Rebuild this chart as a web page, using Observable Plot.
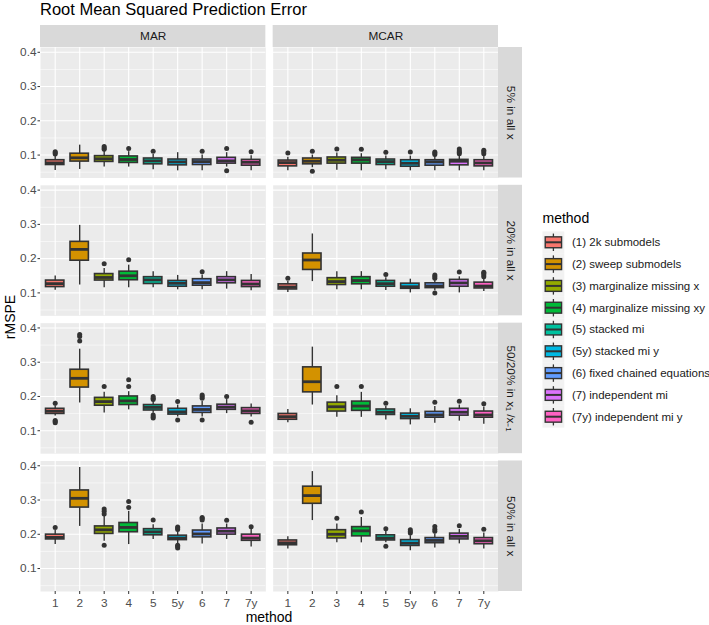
<!DOCTYPE html>
<html><head><meta charset="utf-8">
<script src="https://cdn.jsdelivr.net/npm/d3@7"></script>
<script src="https://cdn.jsdelivr.net/npm/@observablehq/plot@0.6"></script>
<style>
body{margin:0;background:#fff}
#chart{position:relative;width:709px;height:625px}
</style>
</head><body><div id="chart"></div>
<script>
const chartTitle = "Root Mean Squared Prediction Error";
const mechanisms = ["MAR", "MCAR"];
const scenarios = ["5% in all x", "20% in all x", "50/20% in x\u2081 /x\u208B\u2081", "50% in all x"];
const methodCodes = ["1", "2", "3", "4", "5", "5y", "6", "7", "7y"];
const methodLabels = ["(1) 2k submodels", "(2) sweep submodels", "(3) marginalize missing x", "(4) marginalize missing xy", "(5) stacked mi", "(5y) stacked mi y", "(6) fixed chained equations", "(7) independent mi", "(7y) independent mi y"];
const methodColors = ["#F8766D", "#D39200", "#93AA00", "#00BA38", "#00C19F", "#00B9E3", "#619CFF", "#DB72FB", "#FF61C3"];
const yTicks = [0.1, 0.2, 0.3, 0.4];
const yMinorTicks = [0.05, 0.15, 0.25, 0.35];
const yDomain = [0.033, 0.414];
// panel order: [mechanism index, scenario index]
const panels = [[0,0],[1,0],[0,1],[1,1],[0,2],[1,2],[0,3],[1,3]];

const whiskerLow = [
  [0.055,0.058,0.065,0.065,0.057,0.054,0.054,0.065,0.054],
  [0.054,0.063,0.056,0.054,0.057,0.054,0.054,0.054,0.054],
  [0.108,0.123,0.115,0.115,0.115,0.109,0.109,0.111,0.106],
  [0.101,0.133,0.109,0.109,0.107,0.100,0.106,0.100,0.104],
  [0.143,0.181,0.152,0.161,0.151,0.140,0.140,0.150,0.140],
  [0.123,0.175,0.139,0.139,0.131,0.117,0.122,0.128,0.119],
  [0.170,0.223,0.180,0.170,0.185,0.173,0.172,0.185,0.163],
  [0.157,0.240,0.175,0.175,0.175,0.152,0.160,0.172,0.157]
];
const quartile1 = [
  [0.071,0.081,0.080,0.077,0.073,0.070,0.071,0.075,0.069],
  [0.067,0.073,0.075,0.075,0.071,0.066,0.069,0.070,0.067],
  [0.117,0.194,0.136,0.137,0.126,0.118,0.121,0.128,0.117],
  [0.110,0.167,0.123,0.125,0.118,0.112,0.114,0.118,0.113],
  [0.149,0.226,0.173,0.175,0.159,0.147,0.152,0.161,0.149],
  [0.132,0.212,0.156,0.158,0.146,0.134,0.138,0.144,0.138],
  [0.185,0.278,0.201,0.206,0.197,0.183,0.191,0.199,0.181],
  [0.168,0.289,0.188,0.194,0.182,0.166,0.174,0.185,0.171]
];
const medians = [
  [0.077,0.092,0.089,0.087,0.083,0.080,0.081,0.083,0.079],
  [0.078,0.082,0.085,0.086,0.081,0.076,0.080,0.082,0.077],
  [0.127,0.227,0.145,0.150,0.138,0.128,0.130,0.138,0.126],
  [0.117,0.196,0.133,0.136,0.127,0.118,0.120,0.129,0.120],
  [0.157,0.253,0.185,0.187,0.168,0.155,0.162,0.169,0.158],
  [0.141,0.243,0.170,0.172,0.154,0.142,0.146,0.154,0.146],
  [0.191,0.305,0.213,0.220,0.207,0.189,0.201,0.209,0.189],
  [0.175,0.313,0.200,0.210,0.189,0.174,0.182,0.194,0.181]
];
const quartile3 = [
  [0.085,0.104,0.097,0.096,0.090,0.087,0.087,0.092,0.086],
  [0.084,0.090,0.093,0.092,0.087,0.085,0.085,0.086,0.085],
  [0.136,0.249,0.155,0.162,0.146,0.135,0.140,0.146,0.135],
  [0.125,0.215,0.143,0.146,0.135,0.127,0.128,0.138,0.130],
  [0.164,0.278,0.196,0.200,0.175,0.164,0.171,0.176,0.166],
  [0.149,0.285,0.182,0.185,0.162,0.150,0.155,0.164,0.156],
  [0.199,0.328,0.223,0.233,0.215,0.196,0.211,0.217,0.199],
  [0.182,0.339,0.212,0.221,0.197,0.183,0.189,0.202,0.189]
];
const whiskerHigh = [
  [0.097,0.129,0.112,0.110,0.102,0.107,0.100,0.107,0.098],
  [0.094,0.100,0.106,0.104,0.097,0.097,0.098,0.100,0.100],
  [0.149,0.297,0.171,0.181,0.162,0.151,0.152,0.162,0.154],
  [0.133,0.272,0.162,0.162,0.144,0.140,0.137,0.147,0.142],
  [0.173,0.338,0.212,0.214,0.185,0.175,0.185,0.191,0.178],
  [0.162,0.344,0.202,0.212,0.171,0.164,0.171,0.175,0.169],
  [0.211,0.395,0.252,0.267,0.228,0.208,0.230,0.230,0.214],
  [0.193,0.383,0.230,0.249,0.209,0.196,0.201,0.214,0.204]
];
const outlierValues = [
  [[0.103,0.107,0.110],[],[0.117,0.121,0.125],[0.119],[0.111],[],[0.111],[0.119,0.054],[0.110]],
  [[0.106],[0.111,0.053],[0.118],[0.117],[0.108],[0.109],[0.102,0.106,0.109],[0.104,0.108,0.112,0.118],[0.104,0.110,0.114]],
  [[],[],[0.185],[0.197],[],[],[0.162],[],[]],
  [[0.143],[],[],[],[0.154],[],[0.143,0.148,0.152,0.100],[0.161],[0.147,0.152,0.157,0.160]],
  [[0.180,0.123,0.127,0.130],[0.381,0.375,0.362],[0.229],[0.249,0.229],[0.191,0.195,0.200,0.137,0.141,0.146],[0.185,0.131],[0.195,0.200,0.204,0.131],[0.200],[0.125]],
  [[],[],[0.229],[0.229],[0.180],[],[0.183],[0.186],[0.179]],
  [[0.220],[],[0.274,0.267,0.259,0.168],[0.296,0.278],[0.242],[0.214,0.218,0.221,0.160,0.164,0.168],[0.249,0.246,0.242],[0.241],[0.222]],
  [[],[],[0.247],[0.265],[0.216,0.165],[0.204,0.208,0.213],[0.209,0.215,0.223],[0.225],[0.215]]
];

// build tables
const boxes = [];
const outlierPoints = [];
panels.forEach(([mi, si], p) => {
  methodCodes.forEach((code, k) => {
    const mech = mechanisms[mi], scen = scenarios[si];
    boxes.push({mech, scen, code, lo: whiskerLow[p][k], q1: quartile1[p][k], med: medians[p][k], q3: quartile3[p][k], hi: whiskerHigh[p][k]});
    outlierPoints.push(...outlierValues[p][k].map(v => ({mech, scen, code, value: v})));
  });
});
const topStrips = mechanisms.map(m => ({mech: m, scen: scenarios[0]}));
const rightStrips = scenarios.map(s => ({mech: mechanisms[mechanisms.length - 1], scen: s}));

// layout
const W = 709, H = 625;
const mL = 40, mT = 47, mR = W - 498, mB = H - 591;
const gap = 7.3, stripH = 22, stripW = 24;
const panelW = (W - mL - mR - gap) / 2;
const panelH = (H - mT - mB - 3 * gap) / 4;
const font = "'Liberation Sans', Arial, Helvetica, sans-serif";
const hasAxisMarks = typeof Plot.axisX === "function";

const marks = [
  Plot.frame({fill: "#ebebeb", stroke: "none"}),
  Plot.ruleY(yMinorTicks, {y: d => d, stroke: "#fff", strokeWidth: 0.55}),
  Plot.ruleY(yTicks, {y: d => d, stroke: "#fff", strokeWidth: 1.1}),
  Plot.ruleX(methodCodes, {x: d => d, stroke: "#fff", strokeWidth: 1.1}),
  Plot.rect(topStrips, {fx: "mech", fy: "scen", fill: "#d9d9d9", insetTop: -stripH, insetBottom: panelH}),
  Plot.text(topStrips, {fx: "mech", fy: "scen", text: "mech", frameAnchor: "top", textAnchor: "middle", lineAnchor: "middle", dy: -stripH / 2, fill: "#1a1a1a", fontSize: 11.8}),
  Plot.rect(rightStrips, {fx: "mech", fy: "scen", fill: "#d9d9d9", insetRight: -stripW, insetLeft: panelW}),
  Plot.text(rightStrips, {fx: "mech", fy: "scen", text: "scen", frameAnchor: "right", textAnchor: "middle", lineAnchor: "middle", dx: stripW / 2, rotate: 90, fill: "#1a1a1a", fontSize: 11.8}),
  Plot.ruleX(boxes, {fx: "mech", fy: "scen", x: "code", y1: "lo", y2: "hi", stroke: "#333", strokeWidth: 1.4}),
  Plot.barY(boxes, {fx: "mech", fy: "scen", x: "code", y1: "q1", y2: "q3", fill: "code", stroke: "#333", strokeWidth: 1.6}),
  Plot.tickY(boxes, {fx: "mech", fy: "scen", x: "code", y: "med", stroke: "#333", strokeWidth: 2.8}),
  Plot.dot(outlierPoints, {fx: "mech", fy: "scen", x: "code", y: "value", r: 2.5, fill: "#333", stroke: "none"})
];
if (hasAxisMarks) {
  marks.push(
    Plot.axisX({tickSize: 3, tickPadding: 4, fill: "#4d4d4d", stroke: "#333", label: null, fontSize: 11.8}),
    Plot.axisY({ticks: yTicks, tickFormat: ".1f", tickSize: 2.5, tickPadding: 1.5, fill: "#4d4d4d", stroke: "#333", label: null, fontSize: 11.8})
  );
}

const plot = Plot.plot({
  width: W, height: H,
  marginTop: mT, marginRight: mR, marginBottom: mB, marginLeft: mL,
  style: {fontFamily: font, fontSize: "11.8px", background: "#fff", color: "#4d4d4d", overflow: "visible"},
  fx: {domain: mechanisms, paddingInner: gap / (panelW + gap), paddingOuter: 0, round: false, axis: null, label: null},
  fy: {domain: scenarios, paddingInner: gap / (panelH + gap), paddingOuter: 0, round: false, axis: null, label: null},
  x: {type: "band", domain: methodCodes, paddingInner: 0.25, paddingOuter: 0.225, round: false, label: null,
      ...(hasAxisMarks ? {} : {tickSize: 3, tickPadding: 4})},
  y: {domain: yDomain, label: null,
      ...(hasAxisMarks ? {} : {ticks: yTicks, tickFormat: ".1f", tickSize: 2.5, tickPadding: 1.5})},
  color: {domain: methodCodes, range: methodColors},
  marks
});
document.getElementById("chart").appendChild(plot);

// titles and legend
const svg = d3.select(plot);
svg.append("text").attr("x", 40).attr("y", 15.2).attr("text-anchor", "start").attr("font-family", font).attr("font-size", 16.5)
  .attr("fill", "#000").text(chartTitle);
svg.append("text").attr("transform", "translate(14.5,317) rotate(-90)").attr("text-anchor", "middle")
  .attr("font-family", font).attr("font-size", 14).attr("fill", "#000").text("rMSPE");
svg.append("text").attr("x", (mL + W - mR) / 2).attr("y", 621.5).attr("text-anchor", "middle")
  .attr("font-family", font).attr("font-size", 14).attr("fill", "#000").text("method");

const lg = svg.append("g").attr("transform", "translate(542.5,0)").attr("text-anchor", "start");
lg.append("text").attr("x", 0).attr("y", 223).attr("font-family", font).attr("font-size", 14).attr("fill", "#000").text("method");
const keySize = 21.8, key0 = 231.4;
methodLabels.forEach((label, i) => {
  const y0 = key0 + i * keySize;
  const g = lg.append("g").attr("transform", `translate(0,${y0})`);
  g.append("rect").attr("width", keySize).attr("height", keySize).attr("fill", "#f2f2f2");
  g.append("line").attr("x1", keySize / 2).attr("x2", keySize / 2).attr("y1", keySize * 0.1).attr("y2", keySize * 0.9)
    .attr("stroke", "#333").attr("stroke-width", 1.3);
  g.append("rect").attr("x", keySize * 0.125).attr("y", keySize * 0.25).attr("width", keySize * 0.75).attr("height", keySize * 0.5)
    .attr("fill", methodColors[i]).attr("stroke", "#333").attr("stroke-width", 1.4);
  g.append("line").attr("x1", keySize * 0.125).attr("x2", keySize * 0.875).attr("y1", keySize / 2).attr("y2", keySize / 2)
    .attr("stroke", "#333").attr("stroke-width", 2);
  g.append("text").attr("x", 29.5).attr("y", keySize / 2 + 4).attr("text-anchor", "start").attr("font-family", font).attr("font-size", 11.5)
    .attr("fill", "#1a1a1a").text(label);
});
</script>
</body></html>
